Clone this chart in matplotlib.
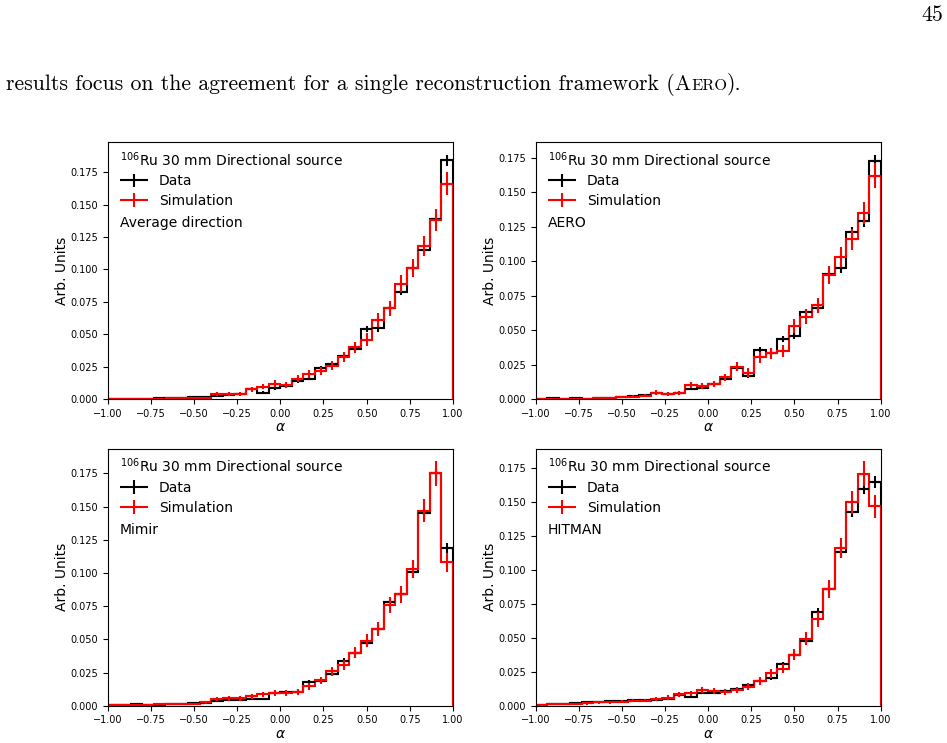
import numpy as np
import matplotlib
matplotlib.use("Agg")
import matplotlib.pyplot as plt
from matplotlib.container import ErrorbarContainer
from matplotlib.legend_handler import HandlerErrorbar
from matplotlib.offsetbox import TextArea, HPacker, AnchoredOffsetbox

# 30 bins in alpha from -1 to 1
edges = np.linspace(-1, 1, 31)
centers = 0.5 * (edges[:-1] + edges[1:])
half_width = 0.5 * (edges[1] - edges[0])

source_label = "$^{106}$Ru 30 mm Directional source"
methods = ["Average direction", "AERO", "Mimir", "HITMAN"]

# Average direction
avg_data = [0.0005, 0.0003, 0.0003, 0.0006, 0.0010, 0.0008, 0.0010, 0.0018, 0.0015, 0.0025,
            0.0035, 0.0039, 0.0077, 0.0052, 0.0085, 0.0106, 0.0139, 0.0160, 0.0240, 0.0270,
            0.0335, 0.0390, 0.0540, 0.0546, 0.0700, 0.0830, 0.1010, 0.1150, 0.1390, 0.1840]
avg_data_err = [0.0002, 0.0002, 0.0002, 0.0003, 0.0003, 0.0003, 0.0003, 0.0005, 0.0004, 0.0005,
                0.0006, 0.0007, 0.0009, 0.0008, 0.0010, 0.0011, 0.0012, 0.0013, 0.0016, 0.0017,
                0.0019, 0.0021, 0.0024, 0.0025, 0.0028, 0.0030, 0.0033, 0.0036, 0.0039, 0.0045]
avg_sim = [0.0005, 0.0003, 0.0003, 0.0005, 0.0005, 0.0008, 0.0010, 0.0010, 0.0013, 0.0039,
           0.0044, 0.0039, 0.0077, 0.0098, 0.0121, 0.0113, 0.0160, 0.0193, 0.0217, 0.0260,
           0.0325, 0.0400, 0.0460, 0.0610, 0.0700, 0.0890, 0.1010, 0.1180, 0.1380, 0.1660]
avg_sim_err = [0.0005, 0.0004, 0.0004, 0.0005, 0.0005, 0.0006, 0.0007, 0.0007, 0.0008, 0.0014,
               0.0015, 0.0014, 0.0019, 0.0022, 0.0024, 0.0023, 0.0028, 0.0031, 0.0032, 0.0035,
               0.0040, 0.0044, 0.0047, 0.0054, 0.0058, 0.0066, 0.0070, 0.0076, 0.0082, 0.0090]

# AERO
aero_data = [0.0005, 0.0007, 0.0002, 0.0010, 0.0005, 0.0007, 0.0010, 0.0015, 0.0024, 0.0029,
             0.0044, 0.0039, 0.0044, 0.0078, 0.0085, 0.0110, 0.0146, 0.0224, 0.0170, 0.0360,
             0.0335, 0.0440, 0.0460, 0.0630, 0.0663, 0.0906, 0.0950, 0.1210, 0.1290, 0.1730]
aero_data_err = [0.0002, 0.0003, 0.0002, 0.0003, 0.0002, 0.0003, 0.0003, 0.0004, 0.0005, 0.0006,
                 0.0007, 0.0007, 0.0007, 0.0009, 0.0010, 0.0011, 0.0013, 0.0016, 0.0014, 0.0020,
                 0.0019, 0.0022, 0.0023, 0.0026, 0.0027, 0.0032, 0.0032, 0.0037, 0.0038, 0.0044]
aero_sim = [0.0005, 0.0002, 0.0002, 0.0005, 0.0005, 0.0007, 0.0012, 0.0015, 0.0019, 0.0024,
            0.0049, 0.0040, 0.0044, 0.0104, 0.0097, 0.0110, 0.0158, 0.0236, 0.0194, 0.0303,
            0.0335, 0.0350, 0.0530, 0.0600, 0.0680, 0.0899, 0.1030, 0.1160, 0.1350, 0.1620]
aero_sim_err = [0.0005, 0.0003, 0.0003, 0.0005, 0.0005, 0.0006, 0.0008, 0.0009, 0.0010, 0.0011,
                0.0015, 0.0014, 0.0015, 0.0022, 0.0022, 0.0023, 0.0028, 0.0034, 0.0031, 0.0038,
                0.0040, 0.0041, 0.0051, 0.0054, 0.0057, 0.0066, 0.0071, 0.0075, 0.0081, 0.0089]

# Mimir
mimir_data = [0.0008, 0.0008, 0.0010, 0.0004, 0.0006, 0.0010, 0.0015, 0.0018, 0.0020, 0.0035,
              0.0040, 0.0045, 0.0050, 0.0050, 0.0095, 0.0100, 0.0105, 0.0180, 0.0185, 0.0240,
              0.0340, 0.0400, 0.0470, 0.0580, 0.0780, 0.0840, 0.1010, 0.1450, 0.1750, 0.1190]
mimir_data_err = [0.0003, 0.0003, 0.0003, 0.0002, 0.0003, 0.0003, 0.0004, 0.0005, 0.0005, 0.0006,
                  0.0007, 0.0007, 0.0007, 0.0007, 0.0010, 0.0011, 0.0011, 0.0014, 0.0014, 0.0016,
                  0.0019, 0.0021, 0.0023, 0.0025, 0.0029, 0.0030, 0.0033, 0.0040, 0.0044, 0.0036]
mimir_sim = [0.0008, 0.0008, 0.0006, 0.0004, 0.0010, 0.0010, 0.0012, 0.0015, 0.0025, 0.0050,
             0.0055, 0.0055, 0.0070, 0.0085, 0.0095, 0.0095, 0.0105, 0.0145, 0.0190, 0.0260,
             0.0305, 0.0400, 0.0490, 0.0580, 0.0760, 0.0840, 0.1030, 0.1470, 0.1750, 0.1080]
mimir_sim_err = [0.0006, 0.0006, 0.0005, 0.0004, 0.0007, 0.0007, 0.0008, 0.0009, 0.0011, 0.0016,
                 0.0016, 0.0016, 0.0018, 0.0020, 0.0021, 0.0021, 0.0023, 0.0026, 0.0030, 0.0035,
                 0.0038, 0.0044, 0.0049, 0.0053, 0.0061, 0.0064, 0.0071, 0.0084, 0.0092, 0.0072]

# HITMAN
hitman_data = [0.0007, 0.0010, 0.0012, 0.0017, 0.0024, 0.0029, 0.0032, 0.0034, 0.0042, 0.0042,
               0.0042, 0.0051, 0.0078, 0.0066, 0.0093, 0.0093, 0.0108, 0.0125, 0.0152, 0.0180,
               0.0206, 0.0304, 0.0377, 0.0475, 0.0690, 0.0862, 0.1130, 0.1430, 0.1600, 0.1647]
hitman_data_err = [0.0003, 0.0003, 0.0004, 0.0004, 0.0005, 0.0006, 0.0006, 0.0006, 0.0007, 0.0007,
                   0.0007, 0.0008, 0.0009, 0.0009, 0.0010, 0.0010, 0.0011, 0.0012, 0.0013, 0.0014,
                   0.0015, 0.0018, 0.0020, 0.0023, 0.0028, 0.0031, 0.0035, 0.0040, 0.0042, 0.0043]
hitman_sim = [0.0007, 0.0010, 0.0010, 0.0012, 0.0017, 0.0024, 0.0024, 0.0029, 0.0037, 0.0037,
              0.0051, 0.0060, 0.0083, 0.0090, 0.0115, 0.0110, 0.0098, 0.0115, 0.0140, 0.0180,
              0.0238, 0.0274, 0.0377, 0.0495, 0.0637, 0.0862, 0.1164, 0.1500, 0.1710, 0.1470]
hitman_sim_err = [0.0006, 0.0007, 0.0007, 0.0008, 0.0009, 0.0011, 0.0011, 0.0012, 0.0013, 0.0013,
                  0.0016, 0.0017, 0.0020, 0.0021, 0.0024, 0.0023, 0.0022, 0.0024, 0.0026, 0.0030,
                  0.0034, 0.0036, 0.0043, 0.0049, 0.0056, 0.0065, 0.0075, 0.0085, 0.0091, 0.0084]

panels = [
    (avg_data, avg_data_err, avg_sim, avg_sim_err),
    (aero_data, aero_data_err, aero_sim, aero_sim_err),
    (mimir_data, mimir_data_err, mimir_sim, mimir_sim_err),
    (hitman_data, hitman_data_err, hitman_sim, hitman_sim_err),
]

# axes rectangles in figure fractions (page layout)
rects = [
    [0.1137, 0.4626, 0.3646, 0.3459],
    [0.5655, 0.4626, 0.3646, 0.3459],
    [0.1137, 0.0502, 0.3646, 0.3455],
    [0.5655, 0.0502, 0.3646, 0.3455],
]

fig = plt.figure(figsize=(9.47, 7.43), dpi=100)

for rect, method, (d, de, s, se) in zip(rects, methods, panels):
    ax = fig.add_axes(rect)
    for vals, errs, col, lab in [(d, de, "black", "Data"), (s, se, "red", "Simulation")]:
        ax.stairs(vals, edges, color=col, lw=1.5, baseline=0)
        ax.errorbar(centers, vals, xerr=half_width, yerr=errs, fmt="none",
                    ecolor=col, elinewidth=1.5, label=lab)
    ax.set_xlim(-1, 1)
    ax.set_ylim(bottom=0)
    ax.set_xlabel(r"$\alpha$", fontsize=10, labelpad=1)
    ax.set_ylabel("Arb. Units", fontsize=10, labelpad=1)
    ax.tick_params(labelsize=7)
    ax.legend(title=source_label, title_fontsize=10, fontsize=10, loc="upper left",
              bbox_to_anchor=(0, 1.018), frameon=False, alignment="left", labelspacing=0.4,
              handler_map={ErrorbarContainer: HandlerErrorbar(xerr_size=1.0, yerr_size=0.5)})
    ax.text(0.036, 0.684, method, transform=ax.transAxes, fontsize=10, va="center", ha="left")

# page text above the figure
main = dict(family="cmr10", size=15.7, color="black")
small = dict(family="cmr10", size=11.8, color="black")
line = HPacker(children=[
    TextArea("results focus on the agreement for a single reconstruction framework (A", textprops=main),
    TextArea("ERO", textprops=small),
    TextArea(").", textprops=main),
], align="baseline", pad=0, sep=0)
box = AnchoredOffsetbox(loc="center left", child=line, pad=0, borderpad=0, frameon=False,
                        bbox_to_anchor=(6 / 947, 1 - 84 / 743), bbox_transform=fig.transFigure)
fig.add_artist(box)
fig.text(932 / 947, 1 - 15 / 743, "45", family="cmr10", size=15.7, ha="center", va="center")

fig.savefig("out.png", dpi=100)
